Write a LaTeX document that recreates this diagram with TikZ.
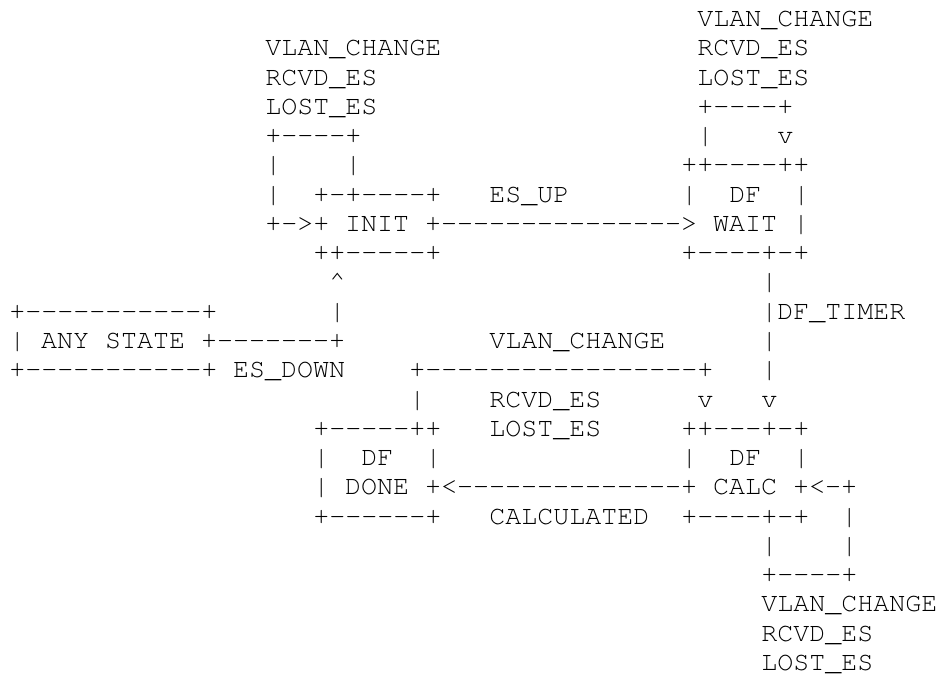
\documentclass[tikz,border=0pt]{standalone}
\usepackage[T1]{fontenc}
\usepackage{courier}
% a run of hyphens with the -- ligature broken
\newcommand{\dashes}[1]{\foreach\dd in {1,...,#1}{-}}
\begin{document}
\begin{tikzpicture}[
    x=12pt, y=-21.95pt,
    txt/.style={anchor=base west, inner sep=0pt, font=\ttfamily\fontsize{20}{22}\selectfont},
]
\useasboundingbox (-6.75pt,-2.05pt) rectangle (699pt,-509.8pt);

% DF WAIT self loop labels (top right)
\node[txt] (wvlan) at (43,1) {VLAN\_CHANGE};
\node[txt] (wrcvd) at (43,2) {RCVD\_ES};
\node[txt] (wlost) at (43,3) {LOST\_ES};
\node[txt] (wloop) at (43,4) {+\dashes{4}+};
\node[txt] (wloopl) at (43,5) {|};
\node[txt] (wloopv) at (48,5) {v};

% INIT self loop labels (top left)
\node[txt] (ivlan) at (16,2) {VLAN\_CHANGE};
\node[txt] (ircvd) at (16,3) {RCVD\_ES};
\node[txt] (ilost) at (16,4) {LOST\_ES};
\node[txt] (iloop) at (16,5) {+\dashes{4}+};
\node[txt] (iloopl) at (16,6) {|};
\node[txt] (iloopr) at (21,6) {|};
\node[txt] (iloopll) at (16,7) {|};

% INIT and DF WAIT
\node[txt] (wtop) at (42,6) {++\dashes{4}++};
\node[txt] (itop) at (19,7) {+-+\dashes{4}+};
\node[txt] (esup) at (30,7) {ES\_UP};
\node[txt] (wleft) at (42,7) {|};
\node[txt] (wdf) at (45,7) {DF};
\node[txt] (wright) at (49,7) {|};
\node[txt] (initrow) at (16,8) {+->+ INIT +\dashes{15}> WAIT |};
\node[txt] (ibot) at (19,9) {++\dashes{5}+};
\node[txt] (wbot) at (42,9) {+\dashes{4}+-+};

% ANY STATE and ES_DOWN
\node[txt] (uparrow) at (20,10) {\textasciicircum};
\node[txt] (tline1) at (47,10) {|};
\node[txt] (atop) at (0,11) {+\dashes{11}+};
\node[txt] (upline) at (20,11) {|};
\node[txt] (timer) at (47,11) {|DF\_TIMER};
\node[txt] (anyrow) at (0,12) {| ANY STATE +\dashes{7}+};
\node[txt] (dvlan) at (30,12) {VLAN\_CHANGE};
\node[txt] (tline2) at (47,12) {|};
\node[txt] (abot) at (0,13) {+\dashes{11}+ ES\_DOWN};
\node[txt] (dloop) at (25,13) {+\dashes{17}+};
\node[txt] (tline3) at (47,13) {|};

% DF DONE and DF CALC
\node[txt] (dloopl) at (25,14) {|};
\node[txt] (drcvd) at (30,14) {RCVD\_ES};
\node[txt] (dloopv) at (43,14) {v};
\node[txt] (tarrow) at (47,14) {v};
\node[txt] (dtop) at (19,15) {+\dashes{5}++};
\node[txt] (dlost) at (30,15) {LOST\_ES};
\node[txt] (ctop) at (42,15) {++\dashes{3}+-+};
\node[txt] (dleft) at (19,16) {|};
\node[txt] (ddf) at (22,16) {DF};
\node[txt] (dright) at (26,16) {|};
\node[txt] (cleft) at (42,16) {|};
\node[txt] (cdf) at (45,16) {DF};
\node[txt] (cright) at (49,16) {|};
\node[txt] (donerow) at (19,17) {| DONE +<\dashes{14}+ CALC +<-+};
\node[txt] (dbot) at (19,18) {+\dashes{6}+};
\node[txt] (calcd) at (30,18) {CALCULATED};
\node[txt] (cbot) at (42,18) {+\dashes{4}+-+};
\node[txt] (cloopr1) at (52,18) {|};

% DF CALC self loop labels (bottom right)
\node[txt] (cloopl) at (47,19) {|};
\node[txt] (cloopr2) at (52,19) {|};
\node[txt] (cloop) at (47,20) {+\dashes{4}+};
\node[txt] (cvlan) at (47,21) {VLAN\_CHANGE};
\node[txt] (crcvd) at (47,22) {RCVD\_ES};
\node[txt] (clost) at (47,23) {LOST\_ES};

\end{tikzpicture}
\end{document}
